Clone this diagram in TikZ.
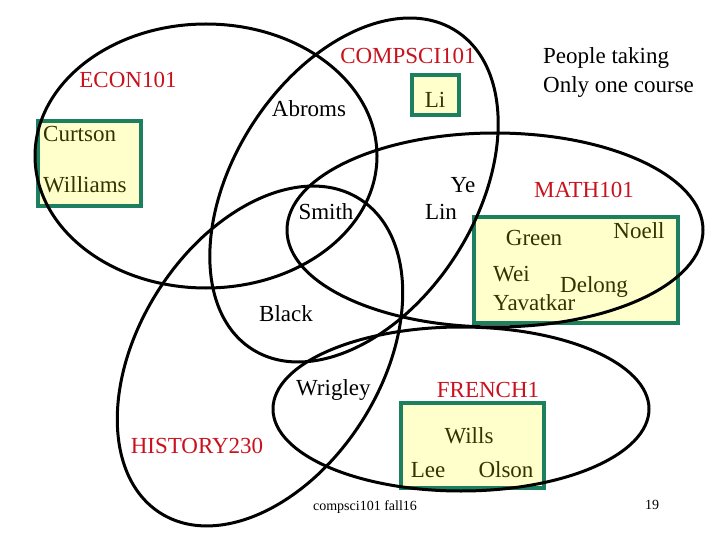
\documentclass[tikz,border=0pt]{standalone}
\usepackage{fontspec}
\setmainfont{Liberation Serif}
\definecolor{coursered}{RGB}{200,18,30}
\definecolor{boxfill}{RGB}{255,255,204}
\definecolor{boxline}{RGB}{28,128,96}
\definecolor{nametext}{RGB}{51,51,0}

\begin{document}
\begin{tikzpicture}[x=1pt,y=-1pt,
  course/.style={line width=3pt,black},
  onlybox/.style={line width=3.4pt,draw=boxline,fill=boxfill},
  txt/.style={inner sep=0pt,anchor=base,font=\fontsize{23}{28}\selectfont},
  coursename/.style={txt,text=coursered},
  student/.style={txt,text=black},
  single/.style={txt,text=nametext},
  foot/.style={inner sep=0pt,anchor=base,font=\fontsize{14}{16}\selectfont}]
\useasboundingbox (0,0) rectangle (720,540);

\draw[onlybox] (38,121) rectangle (141,206);
\draw[onlybox] (412,75) rectangle (459,115);
\draw[onlybox] (474,217) rectangle (678,323);
\draw[onlybox] (401,403) rectangle (544,488);

\draw[course] (206,156) ellipse [x radius=171, y radius=132];
\draw[course, rotate around={57.3:(354,190)}] (354,190) ellipse [x radius=189, y radius=121];
\draw[course] (495,230) ellipse [x radius=208, y radius=97];
\draw[course, rotate around={57.6:(260,356)}] (260,356) ellipse [x radius=186, y radius=121];
\draw[course] (461,409) ellipse [x radius=188, y radius=82];

\node[coursename] (econ) at (128,88) {ECON101};
\node[coursename] (compsci) at (408,64) {COMPSCI101};
\node[coursename] (math) at (584,197) {MATH101};
\node[coursename] (history) at (197,453) {HISTORY230};
\node[coursename] (french) at (488,397) {FRENCH1};

\node[txt, anchor=north west, align=left, font=\fontsize{23}{29}\selectfont] (onlyone) at (543,47.3) {People taking\\Only one course};

\node[student] (abroms) at (309,117) {Abroms};
\node[student] (smith) at (326,219) {Smith};
\node[student] (ye) at (463,193) {Ye};
\node[student] (lin) at (441,220) {Lin};
\node[student] (black) at (286,321) {Black};
\node[student, anchor=base west] (wrigley) at (296,395) {Wrigley};

\node[single, anchor=base west] (curtson) at (43,142) {Curtson};
\node[single, anchor=base west] (williams) at (43,193) {Williams};
\node[single] (li) at (435,108) {Li};
\node[single] (green) at (534,245) {Green};
\node[single] (noell) at (639,239) {Noell};
\node[single, anchor=base west] (wei) at (493,281) {Wei};
\node[single, anchor=base west] (delong) at (560,292) {Delong};
\node[single, anchor=base west] (yavatkar) at (493,310) {Yavatkar};
\node[single] (wills) at (469,443) {Wills};
\node[single] (lee) at (428,477) {Lee};
\node[single] (olson) at (506,477) {Olson};

\node[foot] (course) at (365,510) {compsci101 fall16};
\node[foot] (page) at (652,509) {19};

\end{tikzpicture}
\end{document}
